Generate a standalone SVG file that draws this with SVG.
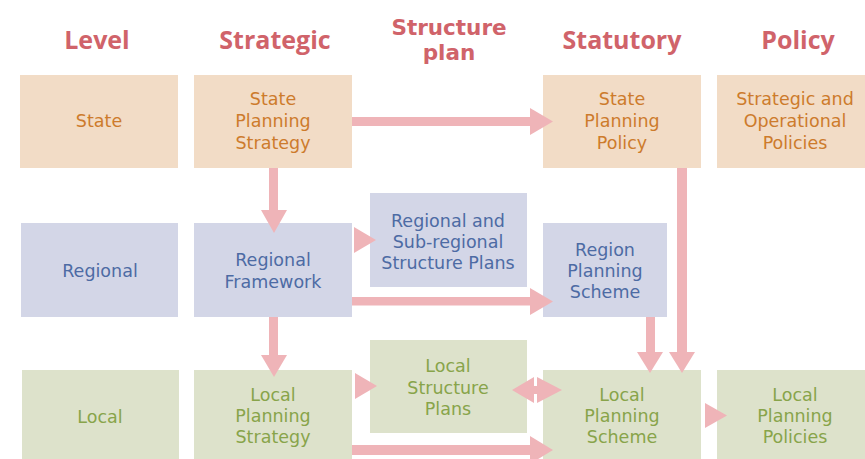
<svg xmlns="http://www.w3.org/2000/svg" width="865" height="459" viewBox="0 0 865 459">
<style>
.hdr{font-family:"Open Sans","DejaVu Sans",sans-serif;font-weight:bold;font-size:25px;fill:#d0636a;text-anchor:middle}
.hdr2{font-family:"DejaVu Sans",sans-serif;font-weight:bold;font-size:21.5px;fill:#d0636a;text-anchor:middle}
.t{font-family:"DejaVu Sans",sans-serif;font-size:17.5px;text-anchor:middle}
.st rect{fill:#f2dcc6}
.st text{fill:#cd7b2c}
.rg rect{fill:#d3d6e7}
.rg text{fill:#4d6ba4}
.lc rect{fill:#dde2cb}
.lc text{fill:#88a44a}
.ar{fill:#efb4b8}
</style>
<rect width="865" height="459" fill="#ffffff"/>
<g id="headers">
<text class="hdr" x="97" y="49">Level</text>
<text class="hdr" x="275" y="49">Strategic</text>
<text class="hdr2" x="449" y="35">Structure</text>
<text class="hdr2" x="449" y="60">plan</text>
<text class="hdr" x="622" y="49">Statutory</text>
<text class="hdr" x="798" y="49">Policy</text>
</g>
<g id="n-state" class="st"><rect x="20" y="75" width="158" height="93"/><text class="t" x="99" y="127">State</text></g>
<g id="n-sps" class="st"><rect x="194" y="75" width="158" height="93"/><text class="t" x="273" y="105">State</text><text class="t" x="273" y="127">Planning</text><text class="t" x="273" y="149">Strategy</text></g>
<g id="n-spp" class="st"><rect x="543" y="75" width="158" height="93"/><text class="t" x="622" y="105">State</text><text class="t" x="622" y="127">Planning</text><text class="t" x="622" y="149">Policy</text></g>
<g id="n-sop" class="st"><rect x="717" y="75" width="158" height="93"/><text class="t" x="795" y="105">Strategic and</text><text class="t" x="795" y="127">Operational</text><text class="t" x="795" y="149">Policies</text></g>
<g id="n-regional" class="rg"><rect x="21" y="223" width="157" height="94"/><text class="t" x="100" y="277">Regional</text></g>
<g id="n-rf" class="rg"><rect x="194" y="223" width="158" height="94"/><text class="t" x="273" y="266">Regional</text><text class="t" x="273" y="288">Framework</text></g>
<g id="n-rsp" class="rg"><rect x="370" y="193" width="157" height="94"/><text class="t" x="448" y="227">Regional and</text><text class="t" x="448" y="248">Sub-regional</text><text class="t" x="448" y="269">Structure Plans</text></g>
<g id="n-rps" class="rg"><rect x="543" y="223" width="124" height="94"/><text class="t" x="605" y="256">Region</text><text class="t" x="605" y="277">Planning</text><text class="t" x="605" y="298">Scheme</text></g>
<g id="n-local" class="lc"><rect x="22" y="370" width="157" height="95"/><text class="t" x="100" y="423">Local</text></g>
<g id="n-lpst" class="lc"><rect x="194" y="370" width="158" height="95"/><text class="t" x="273" y="401">Local</text><text class="t" x="273" y="422">Planning</text><text class="t" x="273" y="443">Strategy</text></g>
<g id="n-lsp" class="lc"><rect x="370" y="340" width="157" height="93"/><text class="t" x="448" y="372">Local</text><text class="t" x="448" y="394">Structure</text><text class="t" x="448" y="415">Plans</text></g>
<g id="n-lpsch" class="lc"><rect x="543" y="370" width="158" height="95"/><text class="t" x="622" y="401">Local</text><text class="t" x="622" y="422">Planning</text><text class="t" x="622" y="443">Scheme</text></g>
<g id="n-lpp" class="lc"><rect x="717" y="370" width="158" height="95"/><text class="t" x="795" y="401">Local</text><text class="t" x="795" y="422">Planning</text><text class="t" x="795" y="443">Policies</text></g>
<g id="connectors" class="ar">
<rect x="352" y="117" width="179" height="9"/><polygon points="530,108 553,121.5 530,135"/>
<rect x="269" y="168" width="9" height="43"/><polygon points="261,210 287,210 274,233"/>
<polygon points="354,227 376,240 354,253"/>
<rect x="352" y="297" width="179" height="8.5"/><polygon points="530,288 553,301.5 530,315"/>
<rect x="269" y="317" width="9" height="39"/><polygon points="261,355 287,355 274,377"/>
<polygon points="355,373 377,386 355,399"/>
<rect x="352" y="445" width="179" height="10"/><polygon points="530,436 553,450 530,464"/>
<polygon points="512,390 534,377 534,403"/><rect x="533" y="386" width="5" height="8"/><polygon points="537,377 562,390 537,403"/>
<rect x="646" y="317" width="9" height="36"/><polygon points="637,352 663,352 650,373"/>
<rect x="677" y="168" width="10" height="185"/><polygon points="669,352 695,352 682,373"/>
<polygon points="705,403 727,415.5 705,428"/>
</g>
</svg>
